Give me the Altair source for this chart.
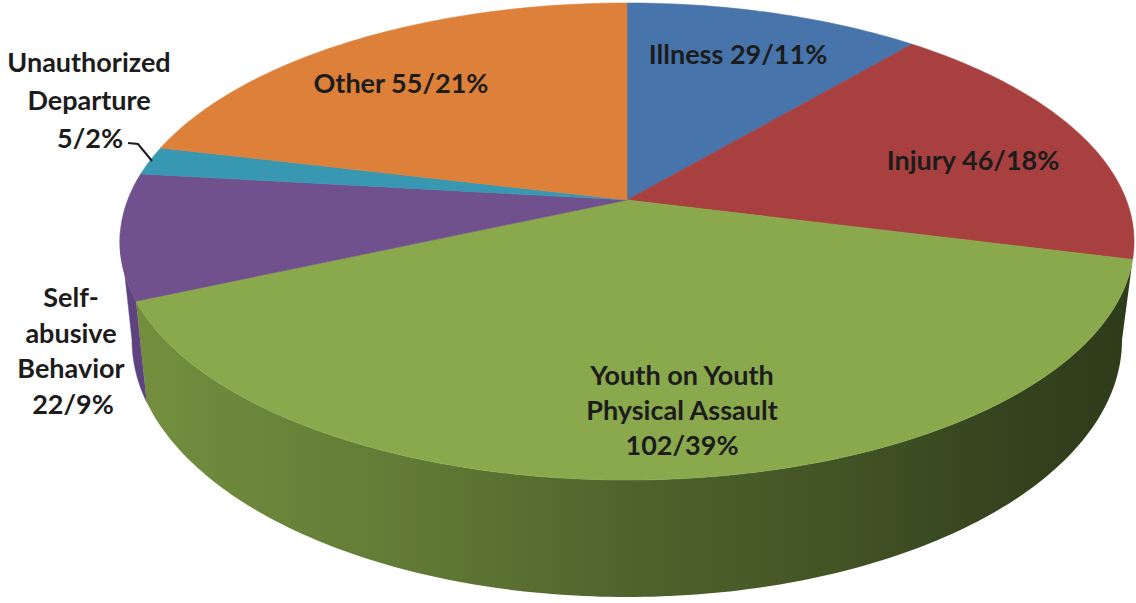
import math
import altair as alt

# Incident counts by category, clockwise from twelve o'clock
CATEGORIES = ["Illness", "Injury", "Youth on Youth Physical Assault",
              "Self-abusive Behavior", "Unauthorized Departure", "Other"]
COUNTS = [29, 46, 102, 22, 5, 55]
PERCENTS = [11, 18, 39, 9, 2, 21]
TOP_COLORS = ["#4674AB", "#A94040", "#8AA94C", "#70508D", "#3897B1", "#DC803A"]

# Wall shading from left to right across the green slice
WALL_STOPS = [(0.0, "#738F3E"), (0.3, "#607835"), (0.5, "#4E632C"),
              (0.7, "#435425"), (0.88, "#34431E"), (1.0, "#2E3B1A")]

# Perspective of the tilted disc (pixels)
CX, CY = 627.0, 200.0
TILT = 0.174
SPREAD_X, SPREAD_Y = 499.3, 231.3
# Lower rim of the disc, an ellipse
RIM_CX, RIM_CY, RIM_RX, RIM_RY = 627.0, 340.0, 495.0, 257.0

TOTAL = sum(COUNTS)


def disc_point(turn):
    """Project a clockwise angle (in degrees from the top) onto the disc."""
    a = math.radians(turn)
    x, y = math.sin(a), math.cos(a)
    d = 1 + TILT * y
    return [CX + SPREAD_X * x / d, CY - SPREAD_Y * y / d]


def rim_point(phi):
    a = math.radians(phi)
    return [RIM_CX + RIM_RX * math.cos(a), RIM_CY + RIM_RY * math.sin(a)]


def sweep(fn, start, end, step=1.0):
    n = max(2, int(abs(end - start) / step))
    return [fn(start + (end - start) * i / n) for i in range(n + 1)]


def polygon(points, **props):
    ring = points + [points[0]]
    return {"type": "Feature", "properties": props,
            "geometry": {"type": "Polygon", "coordinates": [ring]}}


# Slice boundaries as angles
edges = [0.0]
for c in COUNTS:
    edges.append(edges[-1] + 360.0 * c / TOTAL)

top_features = [
    polygon([[CX, CY]] + sweep(disc_point, edges[i], edges[i + 1]), name=CATEGORIES[i])
    for i in range(len(CATEGORIES))
]

green_start, green_end = edges[2], edges[3]
purple_end = 262.0
rim_split = 166.0

wall_green = polygon(
    sweep(disc_point, green_start, green_end) + sweep(rim_point, rim_split, 0.0), name="wall")
wall_purple = polygon(
    sweep(disc_point, green_end, purple_end) + sweep(rim_point, 180.0, rim_split), name="wall")

PROJECTION = dict(type="identity", scale=1, translate=[0, 0])

color_scale = alt.Scale(domain=CATEGORIES, range=TOP_COLORS)


def shapes(features):
    return alt.Chart(alt.Data(values=features))


purple_layer = shapes([wall_purple]).mark_geoshape(
    fill="#5E4380", stroke="#5E4380", strokeWidth=0.5).project(**PROJECTION)

green_layer = shapes([wall_green]).mark_geoshape(
    fill=alt.Gradient(
        gradient="linear", x1=0, y1=0, x2=1, y2=0,
        stops=[alt.GradientStop(offset=o, color=c) for o, c in WALL_STOPS]),
    strokeWidth=0).project(**PROJECTION)

top_layer = shapes(top_features).mark_geoshape(strokeWidth=0.6).encode(
    fill=alt.Fill("properties.name:N", scale=color_scale, legend=None),
    stroke=alt.Stroke("properties.name:N", scale=color_scale, legend=None),
).project(**PROJECTION)

leader = {"type": "Feature", "properties": {},
          "geometry": {"type": "LineString",
                       "coordinates": [[128, 143], [138, 144], [152, 161]]}}
leader_layer = shapes([leader]).mark_geoshape(
    filled=False, stroke="#1c1c1c", strokeWidth=2).project(**PROJECTION)


# Data labels, one row per text line
def stat(i):
    return f"{COUNTS[i]}/{PERCENTS[i]}%"


LABEL_TEXT = [
    f"Illness {stat(0)}", f"Injury {stat(1)}", f"Other {stat(5)}",
    "Youth on Youth", "Physical Assault", stat(2),
    "Unauthorized", "Departure", stat(4),
    "Self-", "abusive", "Behavior", stat(3),
]
LABEL_X = [738, 973, 401, 682, 682, 682, 89, 89, 90, 71, 71, 71, 73]
LABEL_Y = [56, 162, 85, 377, 412, 447, 64, 102, 140, 299, 335, 370, 406]

label_rows = [{"t": t, "x": x, "y": y} for t, x, y in zip(LABEL_TEXT, LABEL_X, LABEL_Y)]
text_layer = alt.Chart(alt.Data(values=label_rows)).mark_text(
    font="Lato", fontWeight="bold", fontSize=27, color="#1c1c1c",
    align="center", baseline="middle",
).encode(
    x=alt.X("x:Q", scale=None),
    y=alt.Y("y:Q", scale=None),
    text="t:N",
)

chart = alt.layer(
    purple_layer, green_layer, top_layer, leader_layer, text_layer
).properties(
    width=1136, height=603, padding=0, autosize=alt.AutoSizeParams(type="none"),
    background="white",
).configure_view(stroke=None)

chart.save("out.html", embed_options={"renderer": "svg", "actions": False})
